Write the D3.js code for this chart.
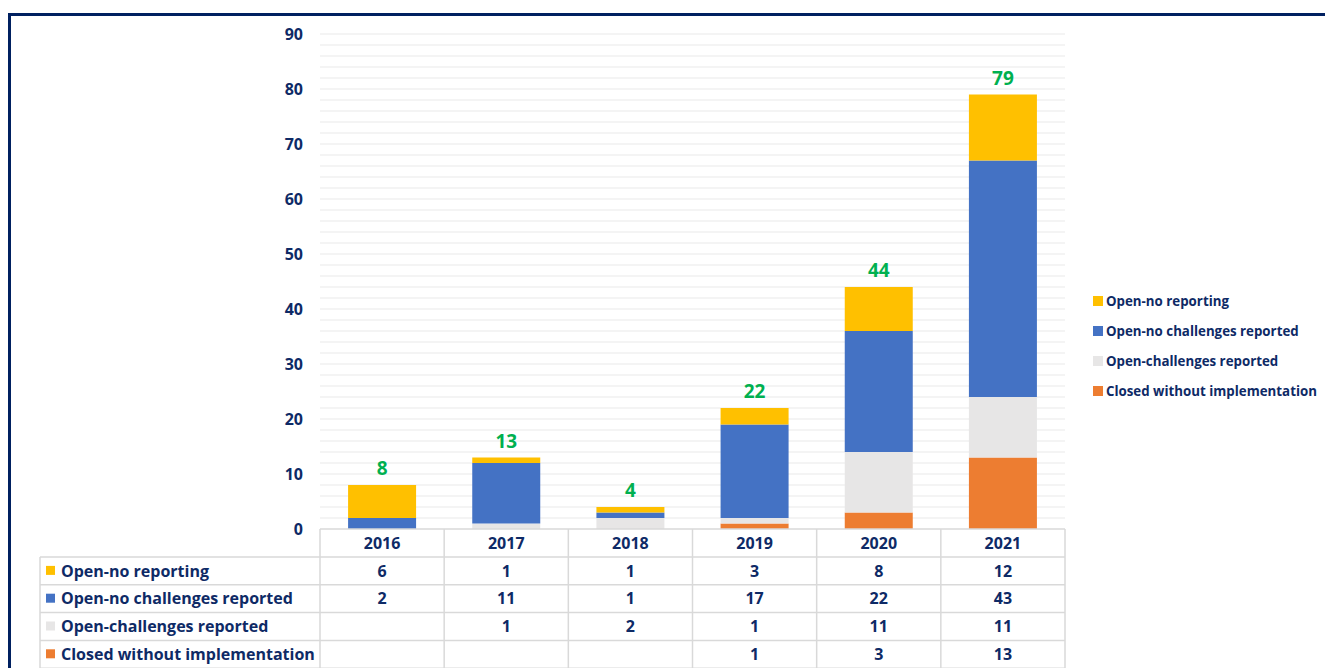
<!DOCTYPE html>
<html lang="en">
<head>
    <meta charset="UTF-8">
    <title>Stacked bar with data table</title>
    <script src="https://d3js.org/d3.v7.min.js"></script>
    <style>
        body { margin: 0; background: #fff; }
        svg { font-family: "Open Sans", sans-serif; font-weight: bold; }
    </style>
</head>
<body>
    <script>
        // chart data
        const years = ["2016", "2017", "2018", "2019", "2020", "2021"];
        const seriesNames = ["Open-no reporting", "Open-no challenges reported", "Open-challenges reported", "Closed without implementation"];
        const openNoReporting = [6, 1, 1, 3, 8, 12];
        const openNoChallenges = [2, 11, 1, 17, 22, 43];
        const openChallenges = [null, 1, 2, 1, 11, 11];
        const closedWithout = [null, null, null, 1, 3, 13];
        const yTicks = [0, 10, 20, 30, 40, 50, 60, 70, 80, 90];

        const colors = {
            "Open-no reporting": "#ffc000",
            "Open-no challenges reported": "#4472c4",
            "Open-challenges reported": "#e7e6e6",
            "Closed without implementation": "#ed7d31"
        };
        const seriesValues = {
            "Open-no reporting": openNoReporting,
            "Open-no challenges reported": openNoChallenges,
            "Open-challenges reported": openChallenges,
            "Closed without implementation": closedWithout
        };
        const navy = "#0e2a66";

        // table rows for d3.stack
        const rows = years.map((y, i) => {
            const r = { year: y };
            seriesNames.forEach(s => r[s] = seriesValues[s][i] || 0);
            return r;
        });
        const totals = rows.map(r => d3.sum(seriesNames, s => r[s]));

        const W = 1325, H = 668;
        const svg = d3.select("body").append("svg")
            .attr("width", W).attr("height", H);

        // frame
        svg.append("rect")
            .attr("x", 9.5).attr("y", 14.5)
            .attr("width", W + 20).attr("height", H + 20)
            .attr("fill", "none")
            .attr("stroke", "#002060")
            .attr("stroke-width", 3);

        const x = d3.scaleBand().domain(years).range([320, 1065]).paddingInner(0).paddingOuter(0);
        const y = d3.scaleLinear().domain([0, 90]).range([529, 34]);
        const barW = 68;

        // minor grid lines every 2
        svg.append("g").selectAll("line")
            .data(d3.range(2, 91, 2))
            .join("line")
            .attr("x1", 320).attr("x2", 1065)
            .attr("y1", d => y(d)).attr("y2", d => y(d))
            .attr("stroke", "#f0f0f0").attr("stroke-width", 1.5);

        // y axis labels
        svg.append("g").selectAll("text")
            .data(yTicks)
            .join("text")
            .attr("x", 303).attr("y", d => y(d))
            .attr("dy", "0.35em")
            .attr("text-anchor", "end")
            .attr("font-size", 16)
            .attr("fill", navy)
            .text(d => d);

        // stacked bars, bottom to top: closed, challenges, no challenges, no reporting
        const stackOrder = seriesNames.slice().reverse();
        const stacked = d3.stack().keys(stackOrder)(rows);
        svg.append("g").selectAll("g")
            .data(stacked)
            .join("g")
            .attr("fill", d => colors[d.key])
            .selectAll("rect")
            .data(d => d)
            .join("rect")
            .attr("x", d => x(d.data.year) + (x.bandwidth() - barW) / 2)
            .attr("width", barW)
            .attr("y", d => y(d[1]))
            .attr("height", d => y(d[0]) - y(d[1]));

        // totals
        svg.append("g").selectAll("text")
            .data(years)
            .join("text")
            .attr("x", d => x(d) + x.bandwidth() / 2)
            .attr("y", (d, i) => y(totals[i]) - 10)
            .attr("text-anchor", "middle")
            .attr("font-size", 19)
            .attr("fill", "#00b050")
            .text((d, i) => totals[i]);

        // data table
        const tableLeft = 40, tableRight = 1065;
        const headTop = 529, headBottom = 557, rowH = 27.8;
        const grid = svg.append("g").attr("stroke", "#d9d9d9").attr("stroke-width", 1.5);
        // horizontal lines
        grid.append("line").attr("x1", 320).attr("x2", tableRight).attr("y1", headTop).attr("y2", headTop);
        seriesNames.forEach((s, i) => {
            const yy = headBottom + i * rowH;
            grid.append("line").attr("x1", tableLeft).attr("x2", tableRight).attr("y1", yy).attr("y2", yy);
        });
        grid.append("line").attr("x1", tableLeft).attr("x2", tableRight)
            .attr("y1", headBottom + 4 * rowH).attr("y2", headBottom + 4 * rowH);
        // vertical lines
        grid.append("line").attr("x1", tableLeft).attr("x2", tableLeft).attr("y1", headBottom).attr("y2", H + 5);
        years.concat(["end"]).forEach((yr, i) => {
            const xx = 320 + i * x.bandwidth();
            grid.append("line").attr("x1", xx).attr("x2", xx).attr("y1", headTop).attr("y2", H + 5);
        });

        // header years
        svg.append("g").selectAll("text")
            .data(years)
            .join("text")
            .attr("x", d => x(d) + x.bandwidth() / 2)
            .attr("y", (headTop + headBottom) / 2)
            .attr("dy", "0.35em")
            .attr("text-anchor", "middle")
            .attr("font-size", 16)
            .attr("fill", navy)
            .text(d => d);

        // table rows
        seriesNames.forEach((s, i) => {
            const cy = headBottom + i * rowH + rowH / 2;
            const g = svg.append("g");
            g.append("rect")
                .attr("x", 46).attr("y", cy - 5)
                .attr("width", 9).attr("height", 9)
                .attr("fill", colors[s]);
            g.append("text")
                .attr("x", 61).attr("y", cy)
                .attr("dy", "0.35em")
                .attr("font-size", 16)
                .attr("fill", navy)
                .text(s);
            g.selectAll("text.val")
                .data(years)
                .join("text")
                .attr("class", "val")
                .attr("x", d => x(d) + x.bandwidth() / 2)
                .attr("y", cy)
                .attr("dy", "0.35em")
                .attr("text-anchor", "middle")
                .attr("font-size", 16)
                .attr("fill", navy)
                .text((d, j) => seriesValues[s][j] == null ? "" : seriesValues[s][j]);
        });

        // legend
        const legend = svg.append("g");
        seriesNames.forEach((s, i) => {
            const ly = 301 + i * 30;
            legend.append("rect")
                .attr("x", 1093).attr("y", ly - 5)
                .attr("width", 10).attr("height", 10)
                .attr("fill", colors[s]);
            legend.append("text")
                .attr("x", 1106).attr("y", ly)
                .attr("dy", "0.35em")
                .attr("font-size", 13.3)
                .attr("fill", navy)
                .text(s);
        });
    </script>
</body>
</html>
